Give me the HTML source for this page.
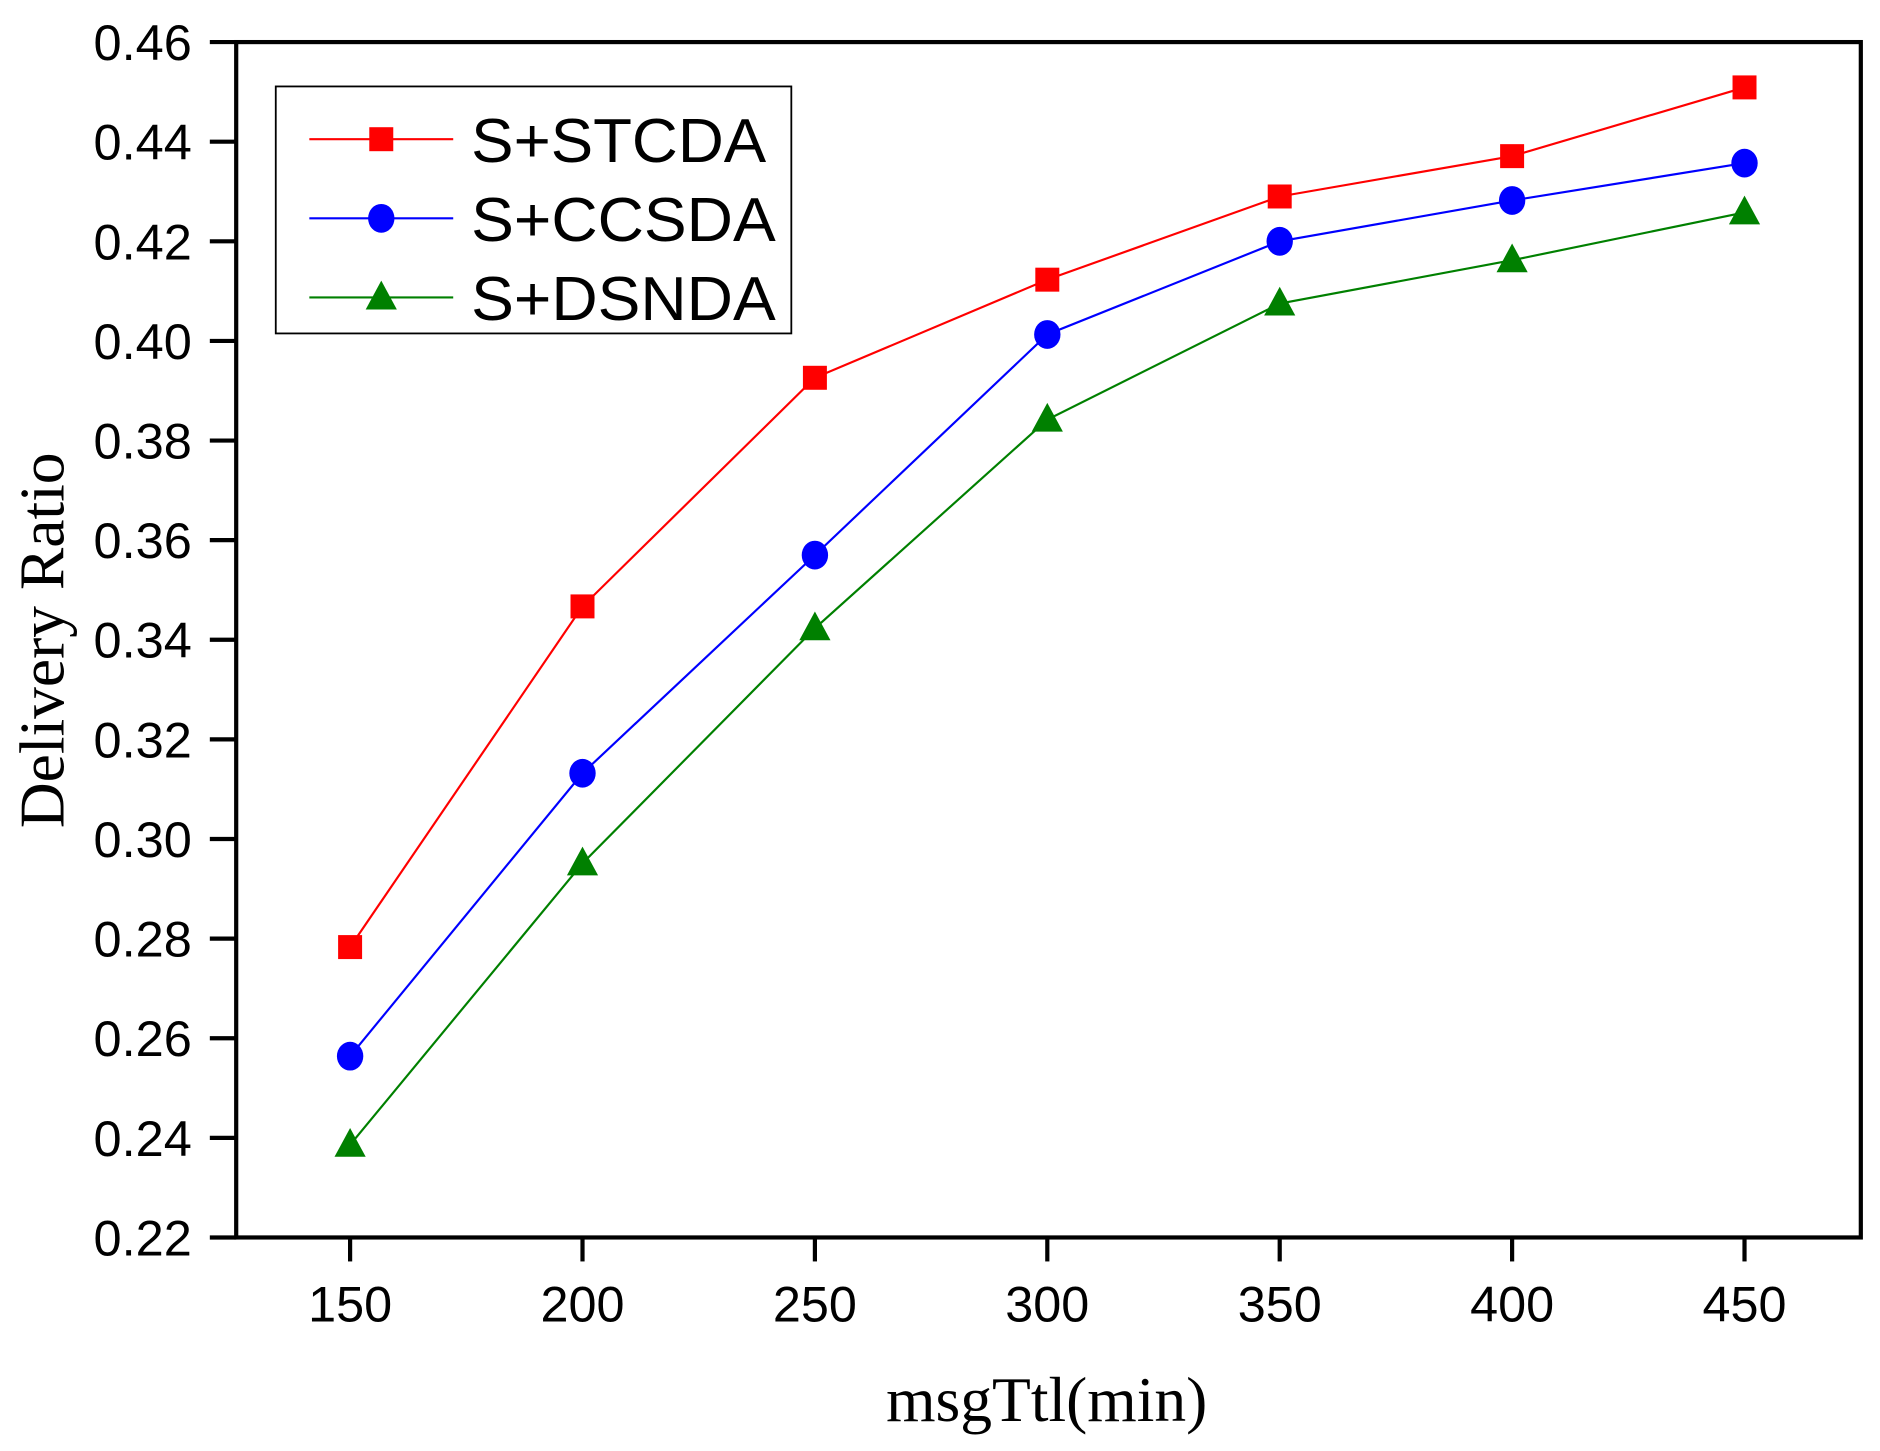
<!DOCTYPE html>
<html><head><meta charset="utf-8"><style>html,body{margin:0;padding:0;background:#fff}svg{display:block}</style></head>
<body>
<svg id="chart" width="1880" height="1451" viewBox="0 0 1568 1210" xmlns="http://www.w3.org/2000/svg">
<g id="g"></g>
</svg>
<script>
const categories = [150, 200, 250, 300, 350, 400, 450];
const stcda = [0.2783, 0.3467, 0.3926, 0.4123, 0.4290, 0.4371, 0.4509];
const ccsda = [0.2564, 0.3132, 0.3570, 0.4013, 0.4200, 0.4282, 0.4357];
const dsnda = [0.2386, 0.2951, 0.3423, 0.3842, 0.4075, 0.4162, 0.4258];
const yTicks = ["0.22","0.24","0.26","0.28","0.30","0.32","0.34","0.36","0.38","0.40","0.42","0.44","0.46"];
const xTicks = [150, 200, 250, 300, 350, 400, 450];
const seriesNames = ["S+STCDA","S+CCSDA","S+DSNDA"];

const NS = "http://www.w3.org/2000/svg";
const g = document.getElementById('g');
const L=197, R=1552, T=35, B=1032;
const x = v => 292 + (v-150)/300*(1455-292);
const y = v => B - (v-0.22)/0.24*(B-T);
function mk(tag, attrs, parent){const e=document.createElementNS(NS,tag);for(const k in attrs)e.setAttribute(k,attrs[k]);(parent||g).appendChild(e);return e;}

const frame = mk('rect',{x:L,y:T,width:R-L,height:B-T,fill:'none',stroke:'#000','stroke-width':3.5});



yTicks.forEach(t=>{
  const yy=y(parseFloat(t));
  const tk=mk('line',{x1:175,x2:L,y1:yy,y2:yy,stroke:'#000','stroke-width':3.5});
  
  
  const tx=mk('text',{x:160,y:yy+15,'text-anchor':'end','font-family':'Liberation Sans, sans-serif','font-size':42,fill:'#000',textLength:82,lengthAdjust:'spacingAndGlyphs'});
  tx.textContent=t;
  
  
});
xTicks.forEach(t=>{
  const xx=x(t);
  const tk=mk('line',{x1:xx,x2:xx,y1:B,y2:1052,stroke:'#000','stroke-width':3.5});
  
  
  const tx=mk('text',{x:xx,y:1102,'text-anchor':'middle','font-family':'Liberation Sans, sans-serif','font-size':42,fill:'#000'});
  tx.textContent=t;
  
  
});

const xt=mk('text',{x:873,y:1185,'text-anchor':'middle','font-family':'Liberation Serif, serif','font-size':53,fill:'#000'});
xt.textContent='msgTtl(min)';


const yt=mk('text',{x:0,y:0,'text-anchor':'middle','font-family':'Liberation Serif, serif','font-size':53,fill:'#000',transform:'translate(53,534) rotate(-90)'});
yt.textContent='Delivery Ratio';



function marker(type,cx,cy,color,parent){
  let m;
  if(type==='square') m=mk('rect',{x:cx-10,y:cy-10,width:20,height:20,fill:color},parent);
  else if(type==='circle') m=mk('ellipse',{cx:cx,cy:cy,rx:11,ry:12,fill:color},parent);
  else m=mk('polygon',{points:`${cx},${cy-14} ${cx-13},${cy+10} ${cx+13},${cy+10}`,fill:color},parent);
  return m;
}
const series=[[stcda,'#ff0000','square','stcda'],[ccsda,'#0000ff','circle','ccsda'],[dsnda,'#008000','triangle','dsnda']];
series.forEach(([vals,color,type,nm])=>{
  const pts=vals.map((v,i)=>x(categories[i])+','+y(v)).join(' ');
  const pl=mk('polyline',{points:pts,fill:'none',stroke:color,'stroke-width':1.8});
  
  
  vals.forEach((v,i)=>{
    const m=marker(type,x(categories[i]),y(v),color);
    
    
  });
});

const lg=mk('g',{});


mk('rect',{x:230,y:72,width:430,height:206,fill:'#fff',stroke:'#000','stroke-width':1.5},lg);
const legendWidths=[246,254,254];
series.forEach(([vals,color,type,nm],i)=>{
  const ry=116+i*66;
  const e=mk('g',{},lg);
  
  
  mk('line',{x1:258,x2:378,y1:ry,y2:ry,stroke:color,'stroke-width':1.8},e);
  marker(type,318,ry,color,e);
  const t=mk('text',{x:393,y:ry+19,'font-family':'Liberation Sans, sans-serif','font-size':52,fill:'#000',textLength:legendWidths[i],lengthAdjust:'spacingAndGlyphs'},e);
  t.textContent=seriesNames[i];
});
</script>
</body></html>
